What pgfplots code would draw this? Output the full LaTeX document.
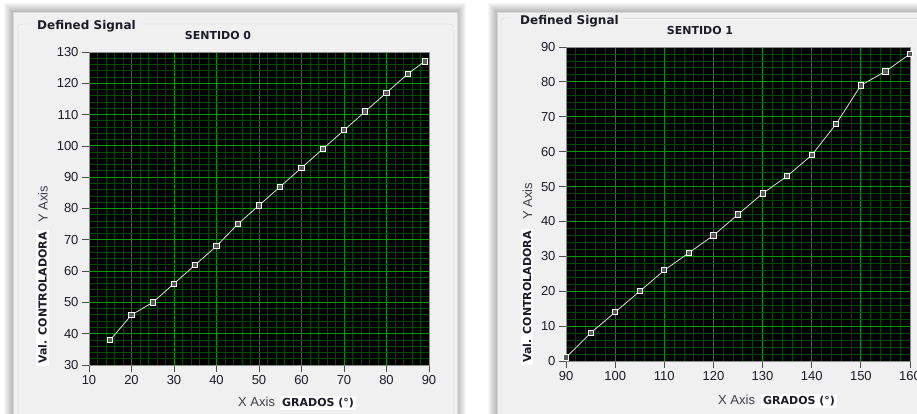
\documentclass[border=0pt]{standalone}
\usepackage{fontspec}
\setmainfont{Liberation Sans}
\newfontfamily\dvs{DejaVu Sans}
\usepackage{pgfplots}
\pgfplotsset{compat=1.18}
\definecolor{panel}{HTML}{F0F0F0}
\definecolor{majg}{HTML}{009A00}
\definecolor{ming}{HTML}{004A00}
\definecolor{txt}{HTML}{1C1C28}
\definecolor{edge}{HTML}{D8D8D8}

\pgfplotstableread{
x y
15 38
20 46
25 50
30 56
35 62
40 68
45 75
50 81
55 87
60 93
65 99
70 105
75 111
80 117
85 123
89 127
}\sentidoA

\pgfplotstableread{
x y
90 1
95 8
100 14
105 20
110 26
115 31
120 36
125 42
130 48
135 53
140 59
145 68
150 79
155 83
160 88
}\sentidoB

\pgfplotsset{
  lvstyle/.style={
    scale only axis,
    anchor=south west,
    axis background/.style={fill=black},
    axis line style={draw=black!45},
    grid=both,
    minor tick num=4,
    major grid style={majg, line width=0.9pt},
    minor grid style={ming, line width=0.9pt},
    tick pos=left,
    tick align=outside,
    major tick length=7pt,
    minor tick length=0pt,
    tick style={black!70, line width=0.8pt},
    ticklabel style={font=\fontsize{13}{13}\selectfont, text=txt},
    /pgf/number format/assume math mode=true,
    clip=false,
  },
  lvline/.style={
    color=black!12, line width=0.8pt,
    mark=square*, mark size=2.6pt,
    mark options={draw=white, fill=black!65, line width=0.9pt}
  }
}

\begin{document}
\begin{tikzpicture}[x=1pt,y=1pt]
\clip (0,0) rectangle (917,-414);
\fill[white] (0,0) rectangle (917,-414);

% shadows
\foreach \d in {1,2,...,9} {
  \fill[black,opacity=0.03] (13-\d,-12+\d) rectangle (457+\d,-430);
  \fill[black,opacity=0.03] (497-\d,-12+\d) rectangle (940,-430);
}
% panels
\fill[panel] (13,-12) rectangle (457,-430);
\draw[edge] (13,-12) rectangle (457,-430);
\fill[panel] (497,-12) rectangle (940,-430);
\draw[edge] (497,-12) rectangle (940,-430);

% group boxes (etched)
\draw[white, rounded corners=4] (31,-25) -- (19,-25) -- (19,-430);
\draw[white, rounded corners=4] (140,-25) -- (455,-25) -- (455,-430);
\draw[edge, rounded corners=4] (31,-24) -- (18,-24) -- (18,-430);
\draw[edge, rounded corners=4] (140,-24) -- (454,-24) -- (454,-430);
\draw[white, rounded corners=4] (514,-19) -- (502,-19) -- (502,-430);
\draw[white, rounded corners=4] (623,-19) -- (940,-19);
\draw[edge, rounded corners=4] (514,-18) -- (501,-18) -- (501,-430);
\draw[edge, rounded corners=4] (623,-18) -- (940,-18);

% titles
\node[anchor=base west, inner sep=0, text=txt, font=\dvs\bfseries\fontsize{12}{12}\selectfont] at (37,-29.5) {Defined Signal};
\node[anchor=base west, inner sep=0, text=txt, font=\dvs\bfseries\fontsize{12}{12}\selectfont] at (520,-24.5) {Defined Signal};
\node[anchor=base, inner sep=0, text=txt, font=\dvs\bfseries\fontsize{11}{11}\selectfont] at (218,-39.5) {SENTIDO 0};
\node[anchor=base, inner sep=0, text=txt, font=\dvs\bfseries\fontsize{11}{11}\selectfont] at (700,-34.3) {SENTIDO 1};

% axis labels left
\node[anchor=base west, inner sep=0, text=txt!85, font=\fontsize{13}{13}\selectfont] at (238,-406.5) {X Axis};
\node[anchor=base west, fill=white, inner xsep=2pt, inner ysep=2.5pt, text=txt, font=\dvs\bfseries\fontsize{11}{11}\selectfont] at (280,-406.5) {GRADOS (°)};
\node[rotate=90, fill=white, inner xsep=2pt, inner ysep=2pt, text=txt, font=\dvs\bfseries\fontsize{11}{11}\selectfont] at (42.5,-298) {Val. CONTROLADORA};
\node[rotate=90, inner sep=0, text=txt!85, font=\fontsize{13}{13}\selectfont] at (43,-204.5) {Y Axis};

% axis labels right
\node[anchor=base west, inner sep=0, text=txt!85, font=\fontsize{13}{13}\selectfont] at (718,-404.5) {X Axis};
\node[anchor=base west, fill=white, inner xsep=2pt, inner ysep=2.5pt, text=txt, font=\dvs\bfseries\fontsize{11}{11}\selectfont] at (761,-404.5) {GRADOS (°)};
\node[rotate=90, fill=white, inner xsep=2pt, inner ysep=2pt, text=txt, font=\dvs\bfseries\fontsize{11}{11}\selectfont] at (527,-297) {Val. CONTROLADORA};
\node[rotate=90, inner sep=0, text=txt!85, font=\fontsize{13}{13}\selectfont] at (527.5,-201.5) {Y Axis};

\begin{axis}[lvstyle,
  at={(89pt,-365pt)}, width=340pt, height=313pt,
  xmin=10, xmax=90, ymin=30, ymax=130,
  xtick={10,20,...,90}, ytick={30,40,...,130}]
\addplot[lvline] table[x=x,y=y] {\sentidoA};
\end{axis}

\begin{axis}[lvstyle,
  at={(566pt,-361pt)}, width=344pt, height=314pt,
  xmin=90, xmax=160, ymin=0, ymax=90,
  xtick={90,100,...,160}, ytick={0,10,...,90}]
\addplot[lvline] table[x=x,y=y] {\sentidoB};
\end{axis}
\end{tikzpicture}
\end{document}
